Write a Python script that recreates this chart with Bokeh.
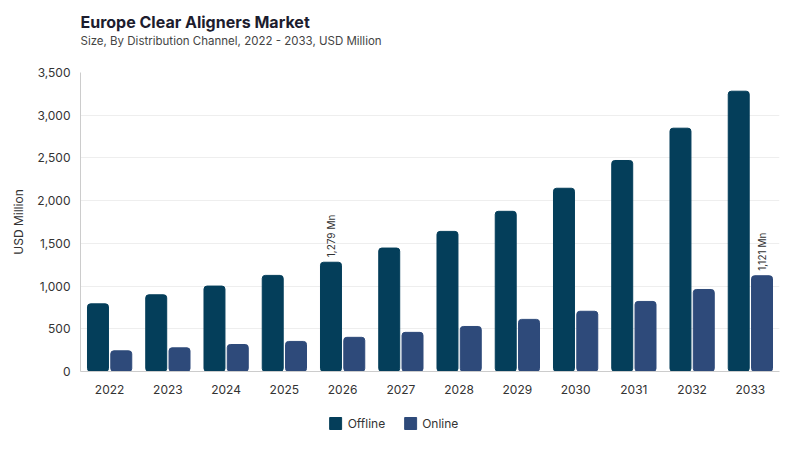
from bokeh.plotting import figure
from bokeh.layouts import column
from bokeh.models import ColumnDataSource, Title, Legend, LegendItem, NumeralTickFormatter, SingleIntervalTicker, Range1d
from bokeh.transform import dodge
from bokeh.core.properties import value
from bokeh.embed import file_html
from bokeh.resources import INLINE
import math

years = ["2022", "2023", "2024", "2025", "2026", "2027", "2028", "2029", "2030", "2031", "2032", "2033"]
offline = [792, 898, 1000, 1125, 1279, 1445, 1640, 1875, 2145, 2470, 2848, 3281]
online = [242, 277, 316, 352, 400, 458, 527, 610, 705, 820, 960, 1121]
series_names = ["Offline", "Online"]
label_years = ["2026", "2033"]
label_series = ["offline", "online"]
label_text = ["1,279 Mn", "1,121 Mn"]

FONT = "Inter"
C_OFF = "#043e5a"
C_ON = "#2e4a7a"

src = ColumnDataSource(dict(year=years, offline=offline, online=online))

p = figure(x_range=years, y_range=Range1d(0, 3500), frame_width=699, frame_height=299,
           output_backend="svg", toolbar_location=None, title=None,
           min_border_left=0, min_border_right=12, min_border_top=0, min_border_bottom=0,
           outline_line_color=None, background_fill_color="white", border_fill_color="white")
p.margin = (9, 0, 0, 8)

spacer = Title(text=" ", text_font=FONT, text_font_size="1px", offset=0, standoff=22)
sub = Title(text="Size, By Distribution Channel, 2022 - 2033, USD Million", text_font=FONT,
            text_font_size="11.5px", text_font_style="normal", text_color="#444444", offset=0, standoff=0)
ttl = Title(text="Europe Clear Aligners Market", text_font=FONT, text_font_size="16px",
            text_font_style="bold", text_color="#1c1c2e", offset=0, standoff=0)
p.add_layout(spacer, "above")
p.add_layout(sub, "above")
p.add_layout(ttl, "above")

p.vbar(x=dodge("year", -0.2, range=p.x_range), top="offline", width=0.36, source=src,
       fill_color=C_OFF, line_color=C_OFF, border_radius=3)
p.vbar(x=dodge("year", 0.2, range=p.x_range), top="online", width=0.36, source=src,
       fill_color=C_ON, line_color=C_ON, border_radius=3)

for yr, s, t in zip(label_years, label_series, label_text):
    i = years.index(yr)
    off = -0.2 if s == "offline" else 0.2
    yv = offline[i] if s == "offline" else online[i]
    p.text(x=dodge("x", off, range=p.x_range), y="y", text="t",
           source=ColumnDataSource(dict(x=[yr], y=[yv], t=[t])),
           angle=math.pi / 2, text_align="left", text_baseline="middle",
           text_font=value(FONT), text_font_size="10px", text_color="#333333", x_offset=0, y_offset=-5)

p.xgrid.grid_line_color = None
p.ygrid.grid_line_color = "#eeeeee"
p.yaxis.ticker = SingleIntervalTicker(interval=500)
p.yaxis.formatter = NumeralTickFormatter(format="0,0")
for ax in (p.xaxis, p.yaxis):
    ax.axis_line_color = "#cccccc"
    ax.major_tick_line_color = None
    ax.minor_tick_line_color = None
    ax.major_label_text_font = FONT
    ax.major_label_text_font_size = "12px"
    ax.major_label_text_color = "#333333"
p.xaxis.major_label_standoff = 7
p.yaxis.major_label_standoff = 4
p.yaxis.axis_label = "USD Million"
p.yaxis.axis_label_text_font = FONT
p.yaxis.axis_label_text_font_size = "12px"
p.yaxis.axis_label_text_font_style = "normal"
p.yaxis.axis_label_text_color = "#333333"
p.yaxis.axis_label_standoff = 8
p.x_range.range_padding = 0

# legend strip (helper renderers sit outside the visible range; only their legend swatches show)
p2 = figure(width=726, height=54, x_range=Range1d(0, 1), y_range=Range1d(0, 1),
            output_backend="svg", toolbar_location=None, title=None,
            min_border=0, outline_line_color=None, background_fill_color="white",
            border_fill_color="white")
p2.axis.visible = False
p2.grid.visible = False
hidden = ColumnDataSource(dict(x=[-5.0], top=[-5.0]))
lr1 = p2.vbar(x="x", top="top", width=0.1, source=hidden, fill_color=C_OFF, line_color=C_OFF, border_radius=3)
lr2 = p2.vbar(x="x", top="top", width=0.1, source=hidden, fill_color=C_ON, line_color=C_ON, border_radius=3)
legend = Legend(items=[LegendItem(label=series_names[0], renderers=[lr1]),
                       LegendItem(label=series_names[1], renderers=[lr2])],
                orientation="horizontal", location="center", label_text_font=FONT,
                label_text_font_size="12px", label_text_color="#333333", glyph_width=15, glyph_height=15,
                spacing=17, border_line_color=None, background_fill_alpha=0, margin=0, padding=0,
                label_standoff=5)
p2.add_layout(legend)

layout = column(p, p2, spacing=0)
open("out.html", "w").write(file_html(layout, INLINE))
